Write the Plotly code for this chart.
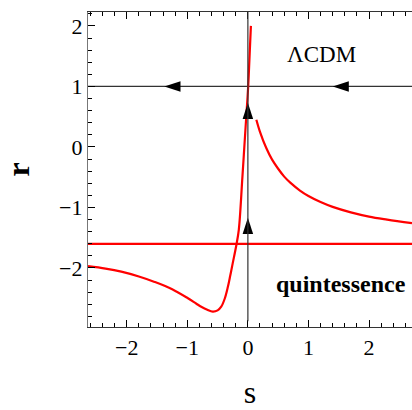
import plotly.graph_objects as go

# --- data ---
left_s = [-2.64, -2.35, -2.09, -1.8, -1.54, -1.25, -0.99, -0.85, -0.77, -0.67, -0.58, -0.5, -0.44, -0.38, -0.33, -0.29, -0.25, -0.19, -0.15, -0.09, -0.03, 0.005, 0.03, 0.05]
left_r = [-1.97, -2.01, -2.06, -2.14, -2.23, -2.35, -2.50, -2.59, -2.64, -2.69, -2.72, -2.70, -2.64, -2.50, -2.31, -2.12, -1.92, -1.62, -1.37, -0.49, 0.45, 1.0, 1.55, 2.0]

right_s = [0.14, 0.2, 0.3, 0.4, 0.5, 0.6, 0.7, 0.86, 1.0, 1.2, 1.4, 1.7, 2.0, 2.3, 2.71]
right_r = [0.45, 0.25, -0.01, -0.21, -0.36, -0.49, -0.59, -0.72, -0.81, -0.91, -0.99, -1.08, -1.15, -1.20, -1.26]

quint_r = -1.6      # red horizontal line
lcdm_r = 1.0        # black horizontal line (LCDM)

# arrowheads: tip positions and direction angle (deg, clockwise from up)
arrow_s = [-1.38, 1.40, 0.0, 0.0]
arrow_r = [1.0, 1.0, 0.73, -1.17]
arrow_ang = [-90, -90, 0, 0]

x_range = [-2.64, 2.71]
y_range = [-2.975, 2.23]
tick_vals = [-2, -1, 0, 1, 2]
tick_text = ["\u22122", "\u22121", "0", "1", "2"]

FONT = "Liberation Serif"

fig = go.Figure()

# black reference line
fig.add_trace(go.Scatter(x=x_range, y=[lcdm_r, lcdm_r], mode="lines",
                         line=dict(color="#333333", width=1.2), showlegend=False, hoverinfo="skip"))

# red curves
fig.add_trace(go.Scatter(x=x_range, y=[quint_r, quint_r], mode="lines",
                         line=dict(color="#ff0000", width=2.2), showlegend=False))
fig.add_trace(go.Scatter(x=left_s, y=left_r, mode="lines", line_shape="spline",
                         line=dict(color="#ff0000", width=2.2), showlegend=False))
fig.add_trace(go.Scatter(x=right_s, y=right_r, mode="lines", line_shape="spline",
                         line=dict(color="#ff0000", width=2.2), showlegend=False))

# arrowheads
fig.add_trace(go.Scatter(x=arrow_s, y=arrow_r, mode="markers",
                         marker=dict(symbol="arrow", size=17, color="black", angle=arrow_ang,
                                     line=dict(width=0)),
                         showlegend=False, hoverinfo="skip"))

# vertical line at s = 0 (extends slightly above the frame)
fig.add_shape(type="line", xref="x", yref="y", x0=0, x1=0, y0=-2.88, y1=2.31,
              line=dict(color="#333333", width=1.2), layer="above")

fig.add_annotation(x=1.22, y=1.53, text="\u039bCDM", showarrow=False,
                   font=dict(family=FONT, size=23, color="black"))
fig.add_annotation(x=1.53, y=-2.27, text="<b>quintessence</b>", showarrow=False,
                   font=dict(family=FONT, size=24, color="black"))

axis_common = dict(
    showgrid=False, zeroline=False, showline=True, linewidth=1.2,
    ticks="inside", ticklen=7, tickwidth=1, tickcolor="black",
    tickfont=dict(family=FONT, size=22, color="black"),
    minor=dict(ticks="inside", ticklen=4, tickwidth=1, tickcolor="black", dtick=0.2),
)

fig.update_xaxes(range=x_range, tickvals=tick_vals, ticktext=tick_text,
                 linecolor="#333333", mirror="ticks",
                 title=dict(text="s", font=dict(family=FONT, size=32, color="black"), standoff=28),
                 **axis_common)
fig.update_yaxes(range=y_range, tickvals=tick_vals, ticktext=tick_text,
                 linecolor="#777777", mirror=False,
                 title=dict(text="<b>r</b>", font=dict(family=FONT, size=32, color="black"), standoff=20),
                 **axis_common)

fig.update_layout(width=412, height=410, margin=dict(l=88, r=0, t=12, b=83),
                  plot_bgcolor="white", paper_bgcolor="white")

fig.write_html("out.html")
